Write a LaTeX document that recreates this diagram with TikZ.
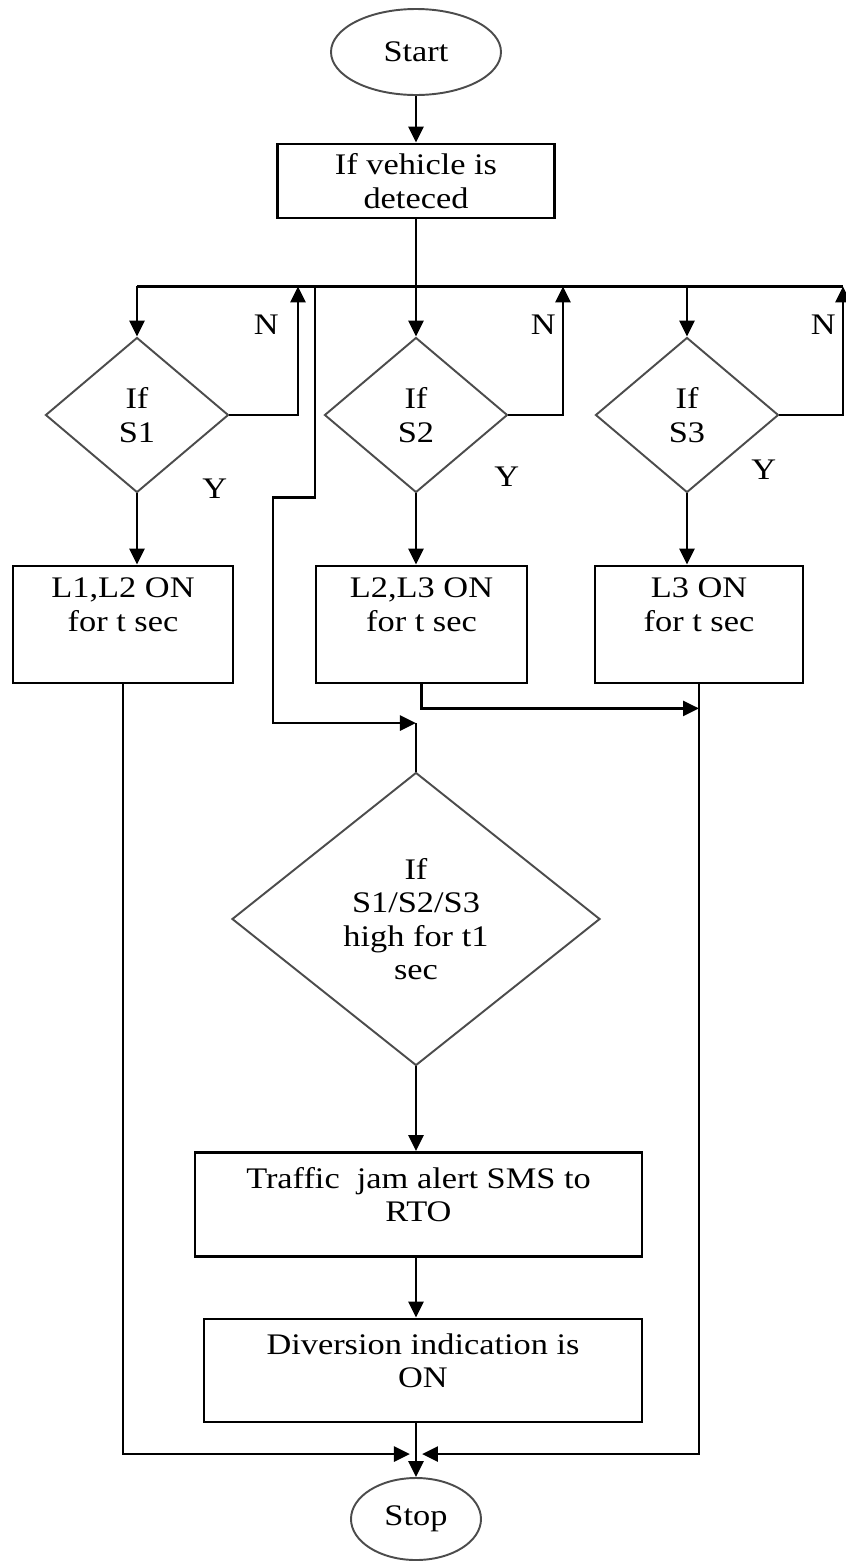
\documentclass[tikz,border=0pt]{standalone}
\usepackage{fontspec}
\setmainfont[FakeStretch=1.15]{Liberation Serif}
\usepackage{tikz}
\usetikzlibrary{shapes.geometric, arrows.meta, positioning, calc}
\tikzstyle{terminator} = [ellipse, minimum width=3.4cm, minimum height=1.72cm, text centered, draw=black!70, line width=1.1pt]
\tikzstyle{process} = [rectangle, minimum width=5.54cm, minimum height=1.48cm, text centered, align=center, draw=black, line width=1.6pt]
\tikzstyle{lamp} = [process, minimum height=2.34cm, text depth=0.8cm]
\tikzstyle{notice} = [process, minimum height=2.08cm, text depth=0.4cm]
\tikzstyle{decision} = [diamond, minimum width=3.66cm, minimum height=3.1cm, inner sep=0pt, text centered, align=center, draw=black!70, line width=1.1pt]
\tikzstyle{arrow} = [line width=1.6pt, -{Triangle[length=3.2mm,width=3mm]}]
\tikzstyle{line} = [line width=1.6pt]

\begin{document}
\begin{tikzpicture}[node distance=2.5cm, font=\fontsize{17}{19}\selectfont]
\useasboundingbox (-8.32,1.04) rectangle (8.58,-30.24);
\node (start) [terminator] {Start};
\node (detect) [process, below of=start, yshift=-0.08cm] {If vehicle is\\deteced};
\node (s2) [decision, below of=detect, yshift=-2.18cm] {If\\S2};
\node (s1) [decision, left of=s2, xshift=-3.08cm] {If\\S1};
\node (s3) [decision, right of=s2, xshift=2.92cm] {If\\S3};
\node (l1) [lamp, minimum width=4.4cm, below of=s1, xshift=-0.28cm, yshift=-1.69cm] {L1,L2 ON\\for t sec};
\node (l2) [lamp, minimum width=4.22cm, below of=s2, xshift=0.11cm, yshift=-1.69cm] {L2,L3 ON\\for t sec};
\node (l3) [lamp, minimum width=4.16cm, below of=s3, xshift=0.24cm, yshift=-1.69cm] {L3 ON\\for t sec};
\node (check) [decision, minimum width=7.36cm, minimum height=5.86cm, below of=s2, yshift=-7.58cm] {If\\S1/S2/S3\\high for t1\\sec};
\node (alert) [notice, minimum width=8.94cm, below of=check, xshift=0.05cm, yshift=-3.21cm] {Traffic~ jam alert SMS to\\RTO};
\node (divert) [notice, minimum width=8.76cm, minimum height=2.06cm, below of=alert, xshift=0.09cm, yshift=-0.82cm] {Diversion indication is\\ON};
\node (stop) [terminator, minimum width=2.6cm, minimum height=1.64cm, below of=divert, xshift=-0.14cm, yshift=-0.47cm] {Stop};

\coordinate (bus) at ($(detect.south)+(0,-1.34)$);
\coordinate (n1) at ($(bus)+(-2.36,0)$);
\coordinate (tap) at ($(bus)+(-2.02,0)$);
\coordinate (n2) at ($(bus)+(2.94,0)$);
\coordinate (n3) at ($(bus)+(8.54,0)$);
\coordinate (join) at ($(check.north)+(0,0.97)$);
\coordinate (mergel) at ($(stop.north)+(-0.12,0.46)$);
\coordinate (merger) at ($(stop.north)+(0.12,0.46)$);

\draw [arrow] (start) -- (detect);
\draw [line] (detect) -- (bus);
\draw [line] (bus -| s1) -- (n3);
\draw [arrow] (bus -| s1) -- (s1);
\draw [arrow] (bus) -- (s2);
\draw [arrow] (bus -| s3) -- (s3);
\draw [arrow] (s1.east) -| node[pos=0.85, left, xshift=-0.24cm] {N} (n1);
\draw [arrow] (s2.east) -| node[pos=0.85, left] {N} (n2);
\draw [arrow] (s3.east) -| node[pos=0.85, left] {N} (n3);
\draw [arrow] (s1) -- node[pos=0, right, xshift=1.16cm, yshift=0.1cm] {Y} (s1 |- l1.north);
\draw [arrow] (s2) -- node[pos=0, right, xshift=1.42cm, yshift=0.34cm] {Y} (s2 |- l2.north);
\draw [arrow] (s3) -- node[pos=0, right, xshift=1.14cm, yshift=0.48cm] {Y} (s3 |- l3.north);
\draw [arrow] (tap) -- ++(0,-4.22) -- ++(-0.84,0) |- (join);
\draw [line] (join) -- (check);
\draw [arrow] (l2.south) -- ++(0,-0.48) coordinate (l2dn) -- (l2dn -| l3.south);
\draw [arrow] (check) -- (check |- alert.north);
\draw [arrow] (alert.south -| stop) -- (stop |- divert.north);
\draw [arrow] (divert.south -| stop) -- (stop);
\draw [arrow] (l1.south) |- (mergel);
\draw [arrow] (l3.south) |- (merger);
\end{tikzpicture}
\end{document}
